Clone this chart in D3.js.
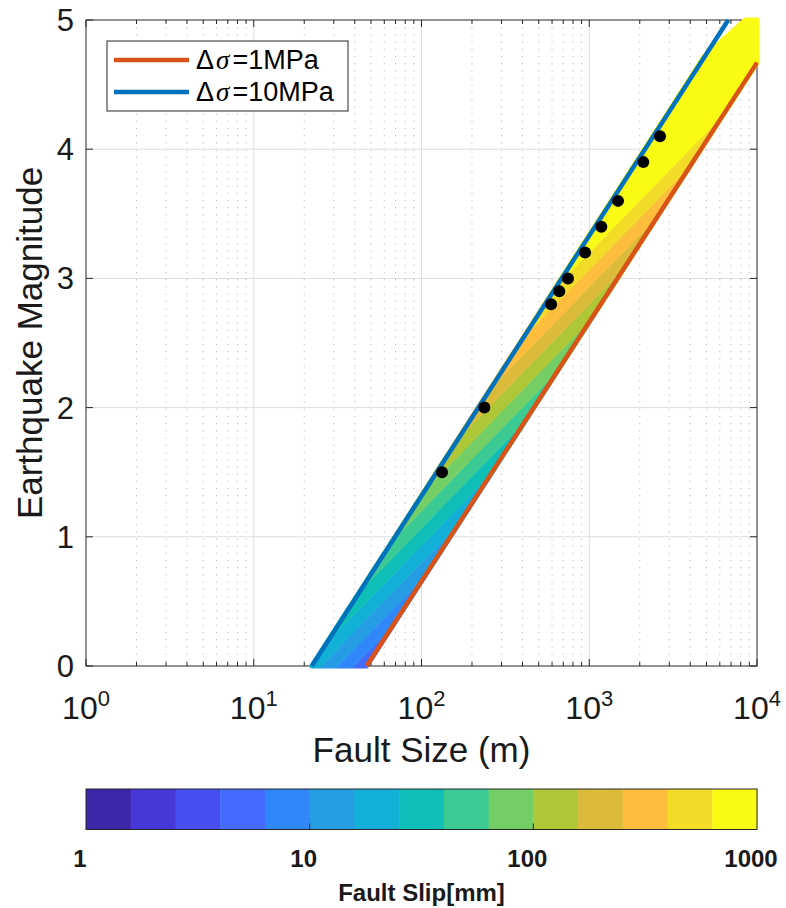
<!DOCTYPE html>
<html><head><meta charset="utf-8">
<script src="https://cdn.jsdelivr.net/npm/d3@7"></script>
<style>
body{margin:0;background:#fff;}
svg{display:block;font-family:"Liberation Sans",Arial,Helvetica,sans-serif;}
</style>
</head><body>
<svg id="chart" width="786" height="908"></svg>
<script>
// ---------------- data ----------------
const xTicks = [1, 10, 100, 1000, 10000];
const xTickExponents = ["0", "1", "2", "3", "4"];
const yTicks = [0, 1, 2, 3, 4, 5];
const seriesNames = ["1MPa", "10MPa"];
const seriesColors = ["#d95319", "#0072bd"];
// stress-drop lines (fault size m, magnitude)
const line1Size = [47.1, 10000];
const line1Mag = [0, 4.67];
const line10Size = [22.2, 6740];
const line10Mag = [0, 5];
// observed events
const eventSize = [132.5, 237, 592, 663, 747, 944, 1180, 1484, 2100, 2641];
const eventMag = [1.5, 2.0, 2.8, 2.9, 3.0, 3.2, 3.4, 3.6, 3.9, 4.1];
// outline of the coloured slip patch
const patchSize = [22.2, 47.1, 10000, 10000, 8500, 4808];
const patchMag = [0, 0, 4.67, 5, 5, 4.71];
// colour bar (slip, mm)
const slipLevels = [1, 1.585, 2.512, 3.981, 6.31, 10, 15.85, 25.12, 39.81, 63.1, 100, 158.5, 251.2, 398.1, 631, 1000];
const slipColors = ["#3e26a8", "#4538d6", "#474ff3", "#436bfe", "#2f87f9", "#269ce5", "#12b0d6", "#10beb8",
  "#3bc994", "#72ce65", "#adc736", "#ddbb3a", "#fdbd3d", "#f3dc27", "#f9fb14"];
const slipTicks = [1, 10, 100, 1000];
// slip model: log10(D) = magCoef*M + sizeCoef*log10(L) + offset
const slipModel = { magCoef: 1.5, sizeCoef: -2, offset: 4.0 };

// ---------------- layout ----------------
const svg = d3.select("#chart");
const L = 86, R = 757, T = 20, B = 666;
const x = d3.scaleLog().domain([1, 10000]).range([L, R]);
const y = d3.scaleLinear().domain([0, 5]).range([B, T]);
const axisColor = "#262626";

// grid
const minorX = x.ticks().filter(v => !xTicks.includes(v));
svg.append("g").selectAll("line").data(minorX).join("line")
  .attr("x1", d => x(d)).attr("x2", d => x(d)).attr("y1", T).attr("y2", B)
  .attr("stroke", "#b8b8b8").attr("stroke-width", 1).attr("stroke-dasharray", "1.2,6");
svg.append("g").selectAll("line").data(xTicks.slice(1, -1)).join("line")
  .attr("x1", d => x(d)).attr("x2", d => x(d)).attr("y1", T).attr("y2", B)
  .attr("stroke", "#dedede").attr("stroke-width", 1);
svg.append("g").selectAll("line").data(yTicks.slice(1, -1)).join("line")
  .attr("x1", L).attr("x2", R).attr("y1", d => y(d)).attr("y2", d => y(d))
  .attr("stroke", "#dedede").attr("stroke-width", 1);

// axes box with inward ticks
const ax = svg.append("g").attr("stroke", axisColor).attr("stroke-width", 1).attr("fill", "none");
ax.append("rect").attr("x", L).attr("y", T).attr("width", R - L).attr("height", B - T);
x.ticks().forEach(v => {
  const len = xTicks.includes(v) ? 7 : 4;
  ax.append("line").attr("x1", x(v)).attr("x2", x(v)).attr("y1", B).attr("y2", B - len);
  ax.append("line").attr("x1", x(v)).attr("x2", x(v)).attr("y1", T).attr("y2", T + len);
});
yTicks.forEach(v => {
  ax.append("line").attr("x1", L).attr("x2", L + 7).attr("y1", y(v)).attr("y2", y(v));
  ax.append("line").attr("x1", R).attr("x2", R - 7).attr("y1", y(v)).attr("y2", y(v));
});

// tick labels
xTicks.forEach((t, i) => {
  const tx = svg.append("text").attr("x", x(t)).attr("y", 719).attr("text-anchor", "middle")
    .attr("font-size", 32).attr("fill", "#1a1a1a");
  tx.append("tspan").text("10");
  tx.append("tspan").attr("font-size", 22).attr("dy", -13).text(xTickExponents[i]);
});
svg.append("g").selectAll("text").data(yTicks).join("text")
  .attr("x", 74).attr("y", d => y(d) + 11).attr("text-anchor", "end")
  .attr("font-size", 31).attr("fill", "#1a1a1a").text(d => d);

// axis titles
svg.append("text").attr("x", (L + R) / 2).attr("y", 762).attr("text-anchor", "middle")
  .attr("font-size", 35).attr("fill", "#1a1a1a").text("Fault Size (m)");
svg.append("text").attr("transform", `translate(42,${(T + B) / 2}) rotate(-90)`).attr("text-anchor", "middle")
  .attr("font-size", 35).attr("fill", "#1a1a1a").text("Earthquake Magnitude");

// ---------------- slip patch ----------------
const patchPts = patchSize.map((s, i) => [x(s), y(patchMag[i])]);
const defs = svg.append("defs");
const mask = defs.append("mask").attr("id", "patchMask").attr("maskUnits", "userSpaceOnUse")
  .attr("x", 0).attr("y", 0).attr("width", 786).attr("height", 908);
mask.append("path").attr("d", "M" + patchPts.join("L") + "Z")
  .attr("fill", "#fff").attr("stroke", "#fff").attr("stroke-width", 5).attr("stroke-linejoin", "round");

const magAt = (logD, logL) => (logD - slipModel.offset - slipModel.sizeCoef * logL) / slipModel.magCoef;
const bands = svg.append("g").attr("mask", "url(#patchMask)");
slipColors.forEach((c, i) => {
  const lo = i === 0 ? -10 : Math.log10(slipLevels[i]);
  const hi = i === slipColors.length - 1 ? 10 : Math.log10(slipLevels[i + 1]);
  const l0 = 0.5, l1 = 4.5;
  const pts = [[l0, lo], [l1, lo], [l1, hi], [l0, hi]].map(([lg, d]) => [x(Math.pow(10, lg)), y(magAt(d, lg))]);
  bands.append("path").attr("d", "M" + pts.join("L") + "Z").attr("fill", c).attr("stroke", c).attr("stroke-width", 0.6);
});

// stress drop lines
const lineGen = d3.line().x(d => x(d[0])).y(d => y(d[1]));
svg.append("path").datum(line1Size.map((s, i) => [s, line1Mag[i]])).attr("d", lineGen)
  .attr("fill", "none").attr("stroke", seriesColors[0]).attr("stroke-width", 4.5);
svg.append("path").datum(line10Size.map((s, i) => [s, line10Mag[i]])).attr("d", lineGen)
  .attr("fill", "none").attr("stroke", seriesColors[1]).attr("stroke-width", 4.5);

// events
svg.append("g").selectAll("circle").data(eventSize).join("circle")
  .attr("cx", d => x(d)).attr("cy", (d, i) => y(eventMag[i])).attr("r", 6).attr("fill", "#000");

// legend
const lg = svg.append("g");
lg.append("rect").attr("x", 107).attr("y", 41).attr("width", 241).attr("height", 70)
  .attr("fill", "#fff").attr("stroke", axisColor).attr("stroke-width", 1);
seriesNames.forEach((n, i) => {
  const cy = 60 + i * 32;
  lg.append("line").attr("x1", 114).attr("x2", 189).attr("y1", cy).attr("y2", cy)
    .attr("stroke", seriesColors[i]).attr("stroke-width", 4.5);
  const t = lg.append("text").attr("x", 196).attr("y", cy + 9).attr("font-size", 27).attr("fill", "#000");
  t.append("tspan").text("Δ");
  t.append("tspan").attr("font-family", "'Liberation Serif','Times New Roman',serif").attr("font-style", "italic").attr("dx", 2).text("σ");
  t.append("tspan").attr("dx", 3).text("=" + n);
});

// ---------------- colour bar ----------------
const cb = d3.scaleLog().domain([slipLevels[0], slipLevels[slipLevels.length - 1]]).range([L, R]);
const cbT = 789, cbB = 829.5;
svg.append("g").selectAll("rect").data(slipColors).join("rect")
  .attr("x", (d, i) => cb(slipLevels[i])).attr("y", cbT)
  .attr("width", (d, i) => cb(slipLevels[i + 1]) - cb(slipLevels[i]) + 0.5).attr("height", cbB - cbT)
  .attr("fill", d => d);
svg.append("rect").attr("x", L).attr("y", cbT).attr("width", R - L).attr("height", cbB - cbT)
  .attr("fill", "none").attr("stroke", axisColor).attr("stroke-width", 1);
svg.append("g").selectAll("line").data(slipTicks.slice(1, -1)).join("line")
  .attr("x1", d => cb(d)).attr("x2", d => cb(d)).attr("y1", cbB).attr("y2", cbB - 6)
  .attr("stroke", axisColor);
svg.append("g").selectAll("text").data(slipTicks).join("text")
  .attr("x", d => cb(d) - 6).attr("y", 867).attr("text-anchor", "middle")
  .attr("font-size", 24).attr("font-weight", "bold").attr("fill", "#1a1a1a").text(d => d);
svg.append("text").attr("x", (L + R) / 2).attr("y", 901).attr("text-anchor", "middle")
  .attr("font-size", 24).attr("font-weight", "bold").attr("fill", "#1a1a1a").text("Fault Slip[mm]");
</script>
</body></html>
